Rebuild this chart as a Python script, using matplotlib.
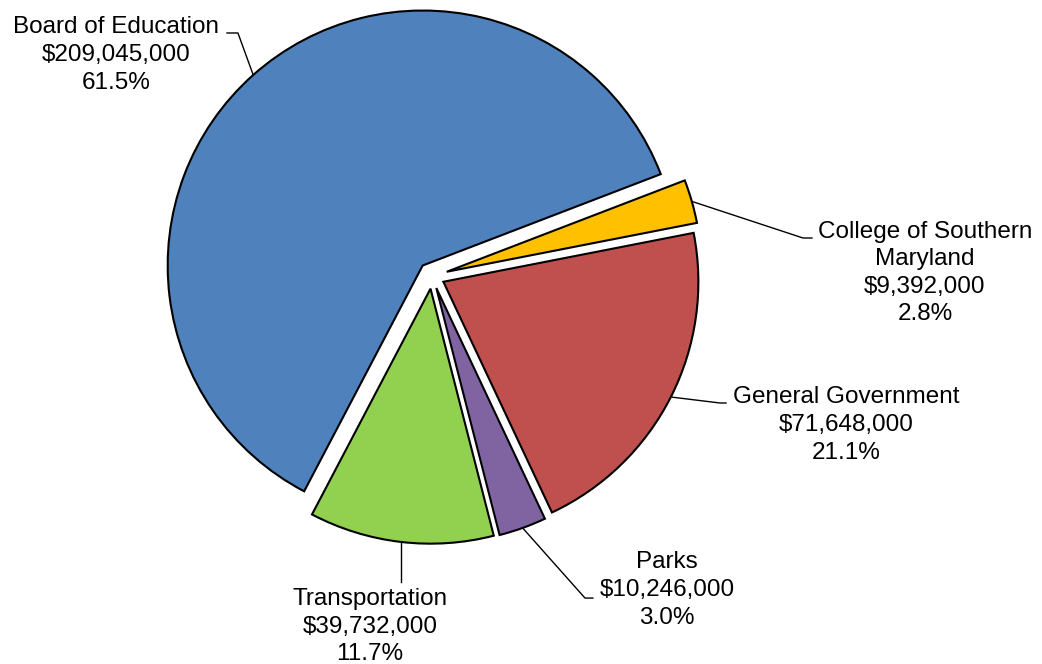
import numpy as np
import matplotlib.pyplot as plt

# data, ordered clockwise starting at the College slice
labels = ['College of Southern\nMaryland', 'General Government', 'Parks',
          'Transportation', 'Board of Education']
values = [9392000, 71648000, 10246000, 39732000, 209045000]
colors = ['#FFC000', '#C0504D', '#8064A2', '#92D050', '#4F81BD']
explode = [0.06, 0.05, 0.05, 0.05, 0.055]

# label placement: (elbow, line end, text centre) in data units (radius = 1)
# elbow x of None means a straight vertical drop from the slice
label_pos = [
    ((1.455, 0.149), (1.490, 0.149), (1.933, 0.012)),
    ((1.129, -0.498), (1.153, -0.498), (1.624, -0.584)),
    ((0.600, -1.263), (0.631, -1.263), (0.922, -1.231)),
    ((None, -1.200), (None, -1.200), (-0.243, -1.376)),
    ((-0.761, 0.953), (-0.804, 0.953), (-1.239, 0.867)),
]

plt.rcParams['font.family'] = ['Liberation Sans', 'DejaVu Sans']

fig = plt.figure(figsize=(10.42, 6.64), dpi=100)
ax = fig.add_axes([0, 0, 1, 1])

wedges, _ = ax.pie(values, colors=colors, explode=explode, startangle=21,
                   counterclock=False, radius=1,
                   wedgeprops=dict(edgecolor='black', linewidth=1.5))
ax.set_aspect('auto')
ax.set_xlim(-432 / 255, (1042 - 432) / 255)
ax.set_ylim(-388 / 255, (664 - 388) / 255)
ax.axis('off')

total = sum(values)
for w, lab, v, (elbow, end, txt) in zip(wedges, labels, values, label_pos):
    theta = np.deg2rad((w.theta1 + w.theta2) / 2)
    cx, cy = w.center
    sx, sy = cx + w.r * np.cos(theta), cy + w.r * np.sin(theta)
    ex = sx if elbow[0] is None else elbow[0]
    nx = sx if end[0] is None else end[0]
    ax.plot([sx, ex, nx], [sy, elbow[1], end[1]],
            color='black', lw=1, clip_on=False)
    s = '{}\n${:,.0f}\n{:.1f}%'.format(lab, v, v / total * 100)
    ax.text(txt[0], txt[1], s, ha='center', va='center', fontsize=17.5,
            linespacing=1.33, clip_on=False)

plt.savefig('out.png', dpi=100)
